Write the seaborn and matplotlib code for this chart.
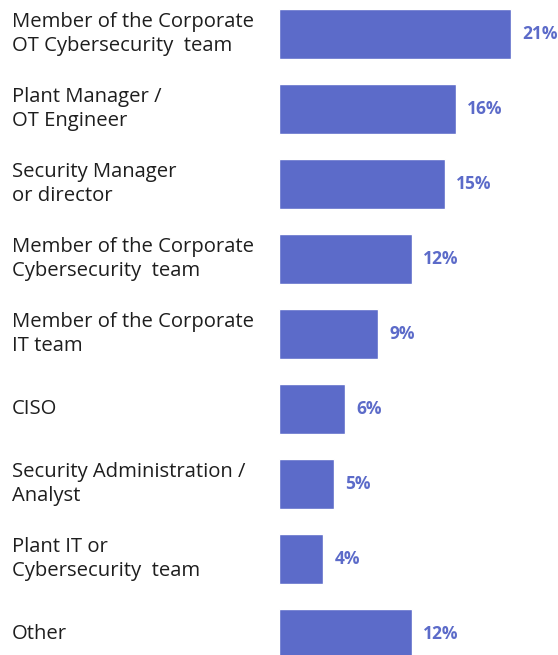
import matplotlib
matplotlib.use("Agg")
import matplotlib.pyplot as plt
import matplotlib.transforms as mtransforms
import seaborn as sns
import pandas as pd

roles = [
    "Member of the Corporate\nOT Cybersecurity  team",
    "Plant Manager /\nOT Engineer",
    "Security Manager\nor director",
    "Member of the Corporate\nCybersecurity  team",
    "Member of the Corporate\nIT team",
    "CISO",
    "Security Administration /\nAnalyst",
    "Plant IT or\nCybersecurity  team",
    "Other",
]
shares = [21, 16, 15, 12, 9, 6, 5, 4, 12]

BAR_COLOR = "#5C6BC9"
TEXT_COLOR = "#1E1E1E"

sns.set_theme(style="white")
plt.rcParams["font.family"] = ["Open Sans", "DejaVu Sans"]

df = pd.DataFrame({"role": roles, "share": shares})

W, H, DPI = 558, 655, 100
fig = plt.figure(figsize=(W / DPI, H / DPI), dpi=DPI)
ax = fig.add_axes([279 / W, 0, 1 - 279 / W, 1])

sns.barplot(data=df, y="role", x="share", orient="h", color=BAR_COLOR,
            saturation=1, width=50 / 75, ax=ax)

ax.set_xlim(0, 25.25)
ax.set_ylim(8 + 21 / 75, -34 / 75)
ax.set_axis_off()

# value labels just right of each bar
for i, v in enumerate(shares):
    ax.annotate(f"{v}%", xy=(v, i), xytext=(8, 0), textcoords="offset points",
                ha="left", va="center", fontsize=12.5, fontweight="bold",
                color=BAR_COLOR)

# category labels, left aligned at the figure edge
trans = mtransforms.blended_transform_factory(fig.transFigure, ax.transData)
for i, r in enumerate(roles):
    ax.text(12 / W, i, r, transform=trans, ha="left", va="center",
            fontsize=14.6, color=TEXT_COLOR, linespacing=1.28)

fig.savefig("out.png", dpi=DPI, facecolor="white")
